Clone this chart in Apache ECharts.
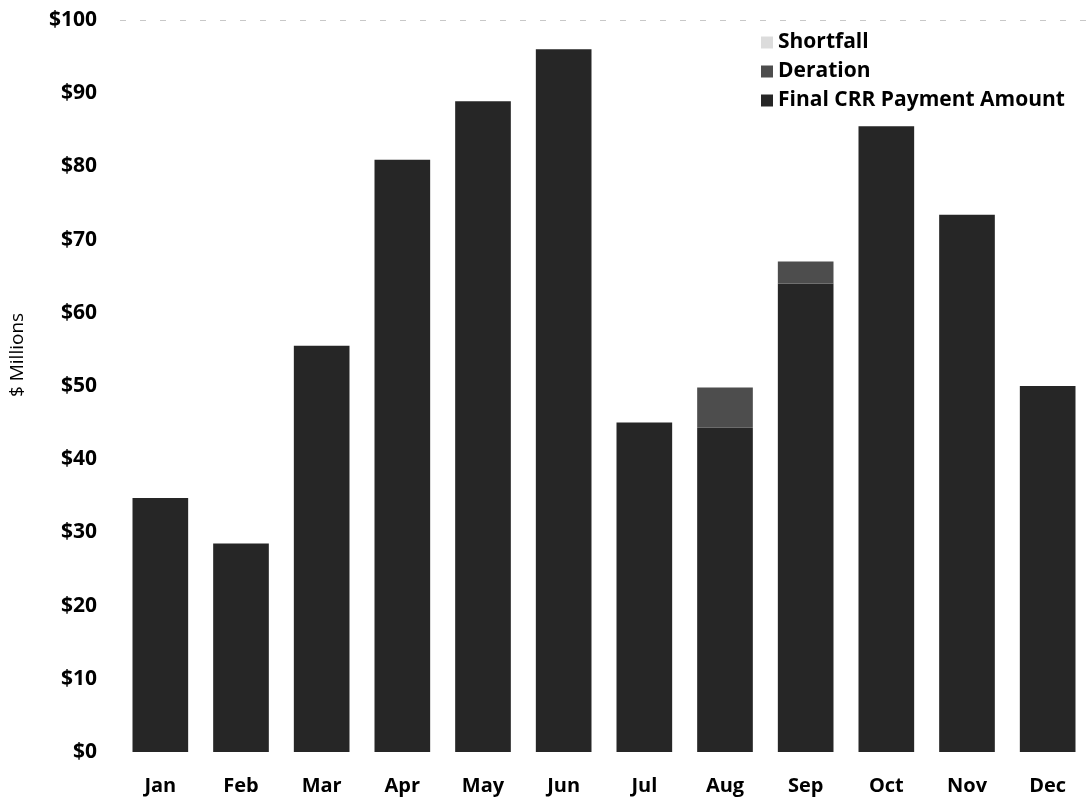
<!DOCTYPE html>
<html>
<head>
<meta charset="utf-8">
<script src="https://cdn.jsdelivr.net/npm/echarts@6/dist/echarts.min.js"></script>
<style>
html,body{margin:0;padding:0;background:#fff;}
#chart{width:1088px;height:800px;}
</style>
</head>
<body>
<div id="chart"></div>
<script>
const months = ['Jan','Feb','Mar','Apr','May','Jun','Jul','Aug','Sep','Oct','Nov','Dec'];
const finalCRR = [34.7, 28.5, 55.5, 80.9, 88.9, 96.0, 45.0, 44.3, 64.0, 85.5, 73.4, 50.0];
const deration = [0, 0, 0, 0, 0, 0, 0, 5.5, 3.0, 0, 0, 0];
const shortfall = [0, 0, 0, 0, 0, 0, 0, 0, 0, 0, 0, 0];
const yTicks = [0, 10, 20, 30, 40, 50, 60, 70, 80, 90, 100];

const font = '"Open Sans", Lato, "DejaVu Sans", sans-serif';
const chart = echarts.init(document.getElementById('chart'));
const gridColors = yTicks.map(v => v === 100 ? '#c8c8c8' : 'rgba(0,0,0,0)');
chart.setOption({
  backgroundColor: '#ffffff',
  animation: false,
  textStyle: { fontFamily: font },
  legend: {
    orient: 'vertical',
    left: 756,
    top: 26,
    itemWidth: 12,
    itemHeight: 12,
    itemGap: 6,
    icon: 'rect',
    data: ['Shortfall', 'Deration', 'Final CRR Payment Amount'],
    textStyle: { fontFamily: font, fontSize: 21, fontWeight: 'bold', color: '#000', lineHeight: 23 }
  },
  grid: { left: 120, top: 20, width: 979, height: 732, containLabel: false },
  xAxis: {
    type: 'category',
    data: months,
    axisLine: { show: false },
    axisTick: { show: false },
    axisLabel: { margin: 24, fontFamily: font, fontSize: 20, fontWeight: 'bold', color: '#000' }
  },
  yAxis: {
    type: 'value',
    min: 0, max: 100, interval: 10,
    axisLine: { show: false },
    axisTick: { show: false },
    splitLine: { show: true, lineStyle: { color: gridColors, type: [6, 14], width: 1 } },
    axisLabel: {
      margin: 23, fontFamily: font, fontSize: 21, fontWeight: 'bold', color: '#000',
      formatter: v => yTicks.includes(v) ? '$' + v : ''
    }
  },
  graphic: [{
    type: 'text',
    x: 18, y: 355,
    rotation: Math.PI / 2,
    style: {
      text: '$ Millions', fontFamily: font, fontSize: 19, fill: '#000',
      textAlign: 'center', textVerticalAlign: 'middle'
    }
  }],
  series: [
    { name: 'Final CRR Payment Amount', type: 'bar', stack: 'a', barWidth: '69%', data: finalCRR,
      itemStyle: { color: '#262626' } },
    { name: 'Deration', type: 'bar', stack: 'a', data: deration,
      itemStyle: { color: '#4d4d4d' } },
    { name: 'Shortfall', type: 'bar', stack: 'a', data: shortfall,
      itemStyle: { color: '#dcdcdc' } }
  ]
});
</script>
</body>
</html>
